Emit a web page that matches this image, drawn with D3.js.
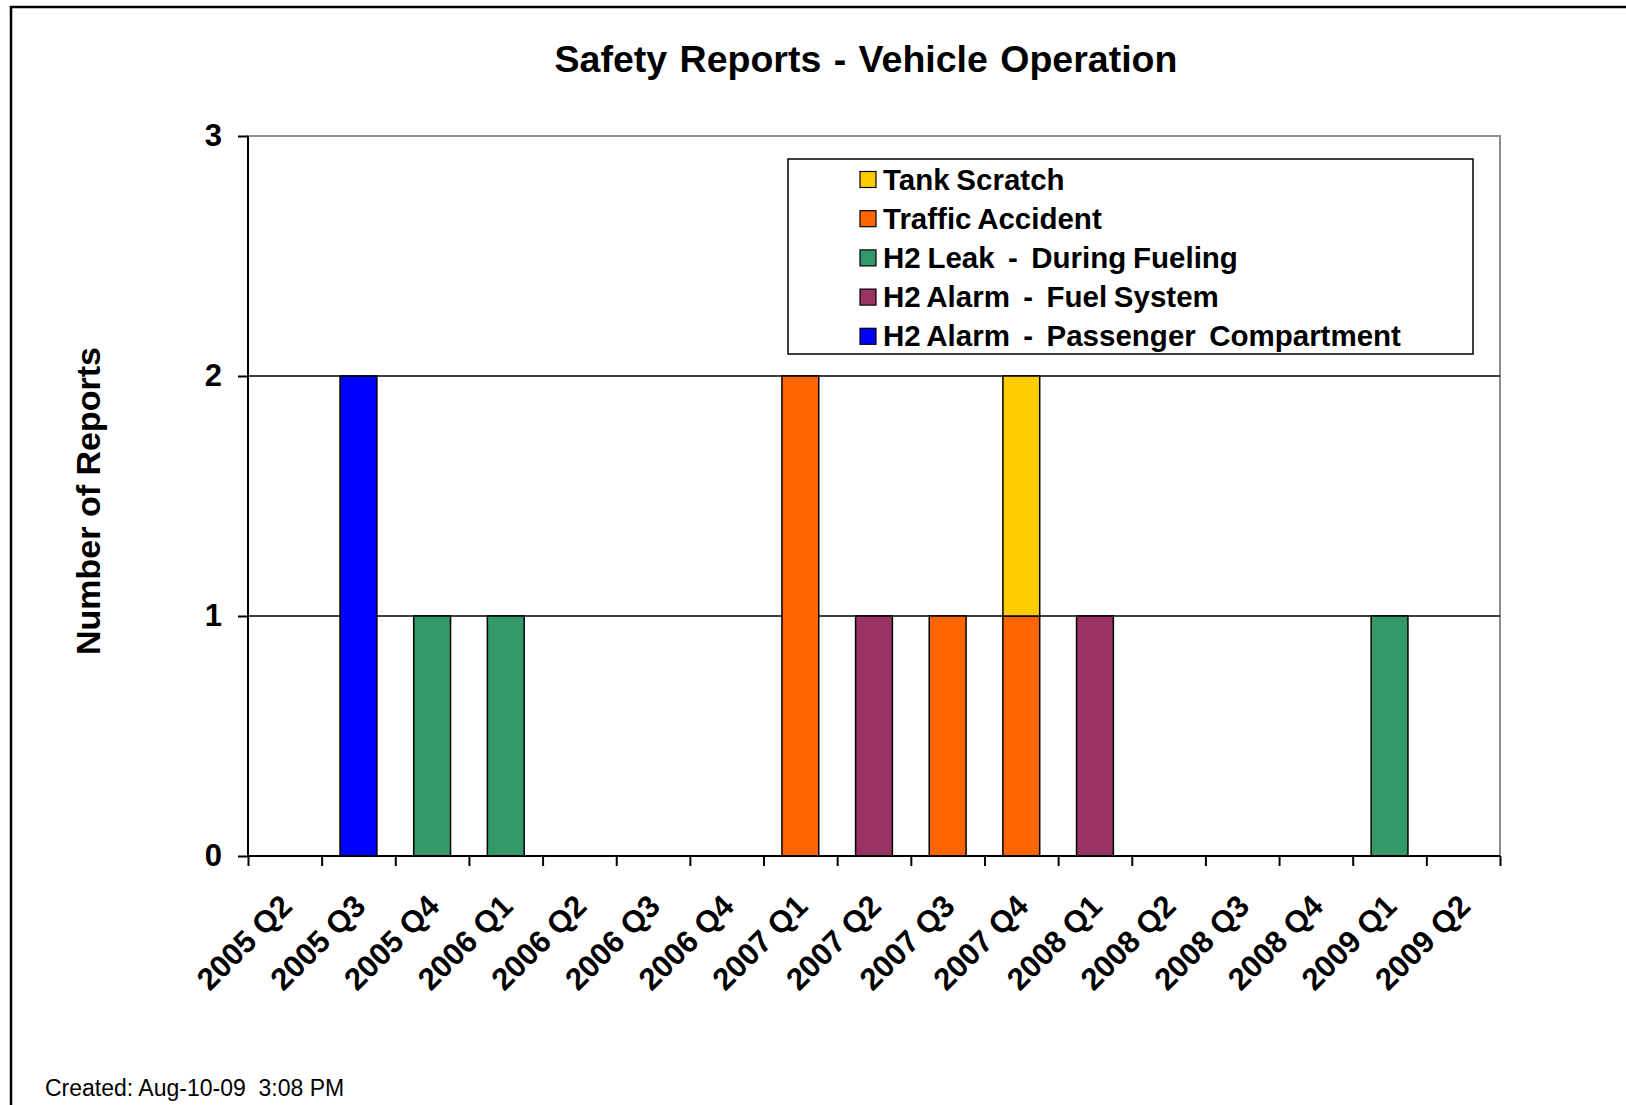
<!DOCTYPE html>
<html>
<head>
<meta charset="utf-8">
<script src="https://cdn.jsdelivr.net/npm/d3@7"></script>
<style>
html,body{margin:0;padding:0;background:#fff;}
svg{display:block;}
text{font-family:"Liberation Sans",Arial,sans-serif;fill:#000;white-space:pre;}
</style>
</head>
<body>
<svg id="chart" width="1626" height="1105"></svg>
<script>
const categories = ["2005 Q2","2005 Q3","2005 Q4","2006 Q1","2006 Q2","2006 Q3","2006 Q4",
  "2007 Q1","2007 Q2","2007 Q3","2007 Q4","2008 Q1","2008 Q2","2008 Q3","2008 Q4","2009 Q1","2009 Q2"];
const seriesNames = ["H2 Alarm  -  Passenger  Compartment","H2 Alarm  -  Fuel System","H2 Leak  -  During Fueling","Traffic Accident","Tank Scratch"];
const seriesColors = ["#0000FF","#993366","#339966","#FF6600","#FFCC00"];
const passengerCompartment = [0,2,0,0,0,0,0,0,0,0,0,0,0,0,0,0,0];
const fuelSystem           = [0,0,0,0,0,0,0,0,1,0,0,1,0,0,0,0,0];
const leakDuringFueling    = [0,0,1,1,0,0,0,0,0,0,0,0,0,0,0,1,0];
const trafficAccident      = [0,0,0,0,0,0,0,2,0,1,1,0,0,0,0,0,0];
const tankScratch          = [0,0,0,0,0,0,0,0,0,0,1,0,0,0,0,0,0];
const yTicks = [0,1,2,3];
const legendOrder = [4,3,2,1,0];

const seriesValues = [passengerCompartment, fuelSystem, leakDuringFueling, trafficAccident, tankScratch];
const table = categories.map((c,i)=>{
  const row = {cat:c};
  seriesNames.forEach((s,k)=>row[s]=seriesValues[k][i]);
  return row;
});

const svg = d3.select("#chart");
const L = 248, R = 1500, T = 136, B = 856;

const x = d3.scaleBand().domain(categories).range([L,R]).paddingInner(0.5).paddingOuter(0.25);
const y = d3.scaleLinear().domain([0,3]).range([B,T]);

// outer frame (top & left)
svg.append("path").attr("d","M11,1105 V7 H1626").attr("fill","none").attr("stroke","#000").attr("stroke-width",2.5);

// title
svg.append("text").attr("x",866).attr("y",72).attr("text-anchor","middle")
  .attr("font-size",37.5).attr("font-weight","bold").attr("word-spacing",2)
  .text("Safety Reports - Vehicle Operation");

// plot area border (gray)
svg.append("rect").attr("x",L).attr("y",T).attr("width",R-L).attr("height",B-T)
  .attr("fill","none").attr("stroke","#8c8c8c").attr("stroke-width",2);

// gridlines
svg.append("g").selectAll("line").data(yTicks.filter(d=>d>0 && d<3)).join("line")
  .attr("x1",L).attr("x2",R).attr("y1",d=>y(d)).attr("y2",d=>y(d))
  .attr("stroke","#000").attr("stroke-width",1.5);

// bars
const stack = d3.stack().keys(seriesNames)(table);
svg.append("g").selectAll("g").data(stack).join("g")
  .attr("fill",(d,i)=>seriesColors[i])
  .selectAll("rect").data(d=>d.filter(p=>p[1]-p[0]>0)).join("rect")
  .attr("x",d=>x(d.data.cat)).attr("width",x.bandwidth())
  .attr("y",d=>y(d[1])).attr("height",d=>y(d[0])-y(d[1]))
  .attr("stroke","#000").attr("stroke-width",1.5);

// y axis
const yAxis = d3.axisLeft(y).tickValues(yTicks).tickSize(10).tickPadding(16).tickFormat(d3.format("d"));
const gy = svg.append("g").attr("transform",`translate(${L},0)`).call(yAxis);
gy.select(".domain").attr("stroke","#000").attr("stroke-width",2).attr("d",`M0,${T}V${B}`);
gy.selectAll(".tick line").attr("stroke","#000").attr("stroke-width",2);
gy.selectAll(".tick text").attr("font-size",31).attr("font-weight","bold")
  .attr("font-family","'Liberation Sans',Arial,sans-serif").attr("fill","#000");

// x axis with ticks at category boundaries
const xb = d3.scaleLinear().domain([0,categories.length]).range([L,R]);
const gx = svg.append("g").attr("transform",`translate(0,${B})`)
  .call(d3.axisBottom(xb).tickValues(d3.range(categories.length+1)).tickSize(10).tickFormat(""));
gx.select(".domain").attr("stroke","#000").attr("stroke-width",2).attr("d",`M${L},0H${R}`);
gx.selectAll(".tick line").attr("stroke","#000").attr("stroke-width",2);

// x labels
svg.append("g").selectAll("text").data(categories).join("text")
  .attr("transform",d=>`translate(${x(d)+x.bandwidth()/2+9},${B+52}) rotate(-45)`)
  .attr("text-anchor","end").attr("font-size",31).attr("font-weight","bold")
  .text(d=>d);

// y label
svg.append("text").attr("transform","translate(100,501) rotate(-90)")
  .attr("text-anchor","middle").attr("font-size",34).attr("font-weight","bold")
  .text("Number of Reports");

// legend
const lg = svg.append("g");
lg.append("rect").attr("x",788).attr("y",159).attr("width",685).attr("height",195)
  .attr("fill","#fff").attr("stroke","#000").attr("stroke-width",1.5);
const items = lg.selectAll("g.item").data(legendOrder).join("g").attr("class","item")
  .attr("transform",(d,i)=>`translate(860,${179.5+i*39.2})`);
items.append("rect").attr("x",0).attr("y",-8).attr("width",16).attr("height",16)
  .attr("fill",d=>seriesColors[d]).attr("stroke","#000").attr("stroke-width",1.2);
items.append("text").attr("x",23).attr("y",10).attr("font-size",29.5).attr("font-weight","bold")
  .attr("word-spacing",-1.5)
  .text(d=>seriesNames[d]);

// footer
svg.append("text").attr("x",45).attr("y",1096).attr("font-size",23).text("Created: Aug-10-09  3:08 PM");
</script>
</body>
</html>
